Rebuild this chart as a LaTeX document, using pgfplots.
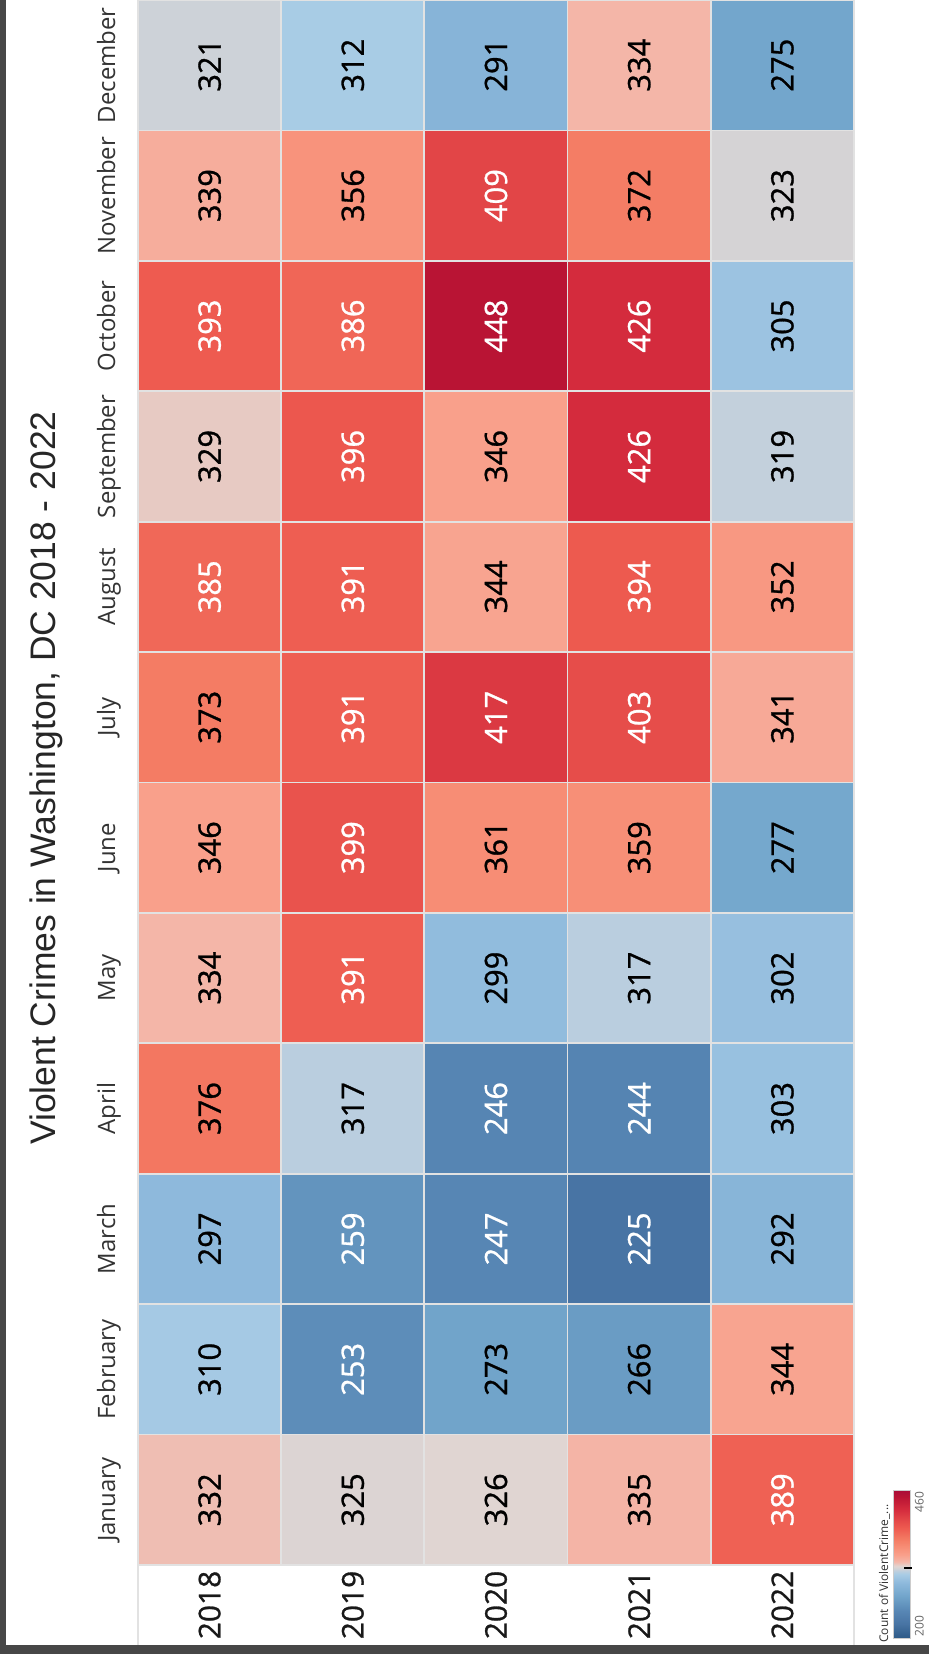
\documentclass[border=0pt]{standalone}
\usepackage{fontspec}
\setmainfont{Open Sans}
\newfontfamily\titlefont{Liberation Sans}
\newfontfamily\valfont{Open Sans}[FakeBold=0.9]
\usepackage{pgfplots}
\usepackage{pgfplotstable}
\pgfplotsset{compat=1.18}
\definecolor{frame}{HTML}{474747}
\definecolor{gridc}{HTML}{E2E2E2}
\definecolor{lab}{HTML}{333333}

\pgfplotsset{
  colormap={tabrb}{
    rgb255(200)=(46,90,135)
    rgb255(225)=(72,116,164)
    rgb255(247)=(87,134,180)
    rgb255(275)=(115,166,204)
    rgb255(297)=(142,185,220)
    rgb255(312)=(168,204,229)
    rgb255(318)=(190,207,222)
    rgb255(322)=(210,211,214)
    rgb255(326)=(224,213,210)
    rgb255(330)=(234,198,190)
    rgb255(334)=(244,182,168)
    rgb255(346)=(249,160,139)
    rgb255(360)=(247,142,118)
    rgb255(373)=(244,124,100)
    rgb255(385)=(240,104,88)
    rgb255(393)=(238,91,80)
    rgb255(409)=(226,69,71)
    rgb255(426)=(212,43,61)
    rgb255(448)=(185,20,52)
    rgb255(460)=(169,12,56)
  },
  valtxt/.style={draw=none, mark=none, nodes near coords, point meta=explicit,
    every node near coord/.append style={rotate=90, anchor=center, inner sep=0pt,
      font=\valfont\fontsize{15.5}{18}\selectfont}},
}

% x: year index (0=2018 ... 4=2022), y: month index (0=January ... 11=December)
\pgfplotstableread{
x y v
0 0 332
1 0 325
2 0 326
3 0 335
4 0 389
0 1 310
1 1 253
2 1 273
3 1 266
4 1 344
0 2 297
1 2 259
2 2 247
3 2 225
4 2 292
0 3 376
1 3 317
2 3 246
3 3 244
4 3 303
0 4 334
1 4 391
2 4 299
3 4 317
4 4 302
0 5 346
1 5 399
2 5 361
3 5 359
4 5 277
0 6 373
1 6 391
2 6 417
3 6 403
4 6 341
0 7 385
1 7 391
2 7 344
3 7 394
4 7 352
0 8 329
1 8 396
2 8 346
3 8 426
4 8 319
0 9 393
1 9 386
2 9 448
3 9 426
4 9 305
0 10 339
1 10 356
2 10 409
3 10 372
4 10 323
0 11 321
1 11 312
2 11 291
3 11 334
4 11 275
}\crimes

\begin{document}
\begin{tikzpicture}
\useasboundingbox (0,0) rectangle (464.5bp,827bp);
\fill[frame] (0,0) rectangle (464.5bp,827bp);
\fill[white] (3bp,4.5bp) rectangle (464.5bp,827bp);
\begin{axis}[
  at={(69bp,44.5bp)}, anchor=south west,
  width=358bp, height=782.5bp, scale only axis,
  xmin=-0.5, xmax=4.5, ymin=-0.5, ymax=11.5,
  colormap name=tabrb,
  point meta min=200, point meta max=460,
  xtick={0,1,2,3,4}, xticklabels={2018,2019,2020,2021,2022},
  ytick={0,1,...,11},
  yticklabels={January,February,March,April,May,June,July,August,September,October,November,December},
  major tick length=0pt,
  xticklabel style={rotate=90, anchor=center, inner sep=0pt, font=\valfont\fontsize{15}{17}\selectfont, text=black!90},
  xticklabel shift=20bp,
  yticklabel style={rotate=90, anchor=base, inner sep=0pt, font=\fontsize{12}{14}\selectfont, text=lab},
  yticklabel shift=11.5bp,
  axis line style={gridc, line width=0.8bp},
  minor xtick={0.5,1.5,2.5,3.5},
  minor ytick={0.5,1.5,...,10.5},
  minor grid style={gridc, line width=0.9bp},
  xminorgrids=true, yminorgrids=true,
  minor tick length=0pt,
  axis on top,
  /pgf/number format/assume math mode=true,
]
\addplot[matrix plot*, mesh/cols=5, point meta=explicit] table[x=x, y=y, meta=v] {\crimes};
\addplot[valtxt, restrict expr to domain={\thisrow{v}}{199:261.5},
  every node near coord/.append style={text=white}] table[x=x, y=y, meta=v] {\crimes};
\addplot[valtxt, restrict expr to domain={\thisrow{v}}{261.5:380},
  every node near coord/.append style={text=black}] table[x=x, y=y, meta=v] {\crimes};
\addplot[valtxt, restrict expr to domain={\thisrow{v}}{380:461},
  every node near coord/.append style={text=white}] table[x=x, y=y, meta=v] {\crimes};
\end{axis}
% colour legend
\begin{axis}[
  at={(446.5bp,8bp)}, anchor=south west,
  width=8.5bp, height=74bp, scale only axis,
  xmin=0, xmax=1, ymin=200, ymax=460,
  xtick=\empty, ytick=\empty,
  axis line style={gray!40, line width=0.4bp},
  colormap name=tabrb, point meta min=200, point meta max=460,
  axis on top,
]
\addplot[surf, shader=interp, point meta=y, mesh/cols=2] coordinates {(0,200) (1,200) (0,460) (1,460)};
\end{axis}
\draw[gridc, line width=0.8bp] (69bp,4.5bp) -- (69bp,44.5bp);
\draw[gridc, line width=0.8bp] (427bp,4.5bp) -- (427bp,44.5bp);
\node[rotate=90, anchor=base, inner sep=0pt, font=\titlefont\fontsize{17.8}{21}\selectfont, text=black!85]
  at (27.5bp,438bp) {Violent Crimes in Washington, DC 2018 - 2022};
\node[rotate=90, anchor=base west, inner sep=0pt, font=\fontsize{6}{7}\selectfont, text=lab]
  at (444bp,5.5bp) {Count of ViolentCrime\_...};
\node[rotate=90, anchor=north west, inner sep=0.8bp, font=\fontsize{6}{7}\selectfont, text=black!60]
  at (456.5bp,8bp) {200};
\node[rotate=90, anchor=north east, inner sep=0.8bp, font=\fontsize{6}{7}\selectfont, text=black!60]
  at (456.5bp,82bp) {460};
\draw[black, line width=0.6bp] (452bp,43bp) -- (456bp,43bp);
\end{tikzpicture}
\end{document}
